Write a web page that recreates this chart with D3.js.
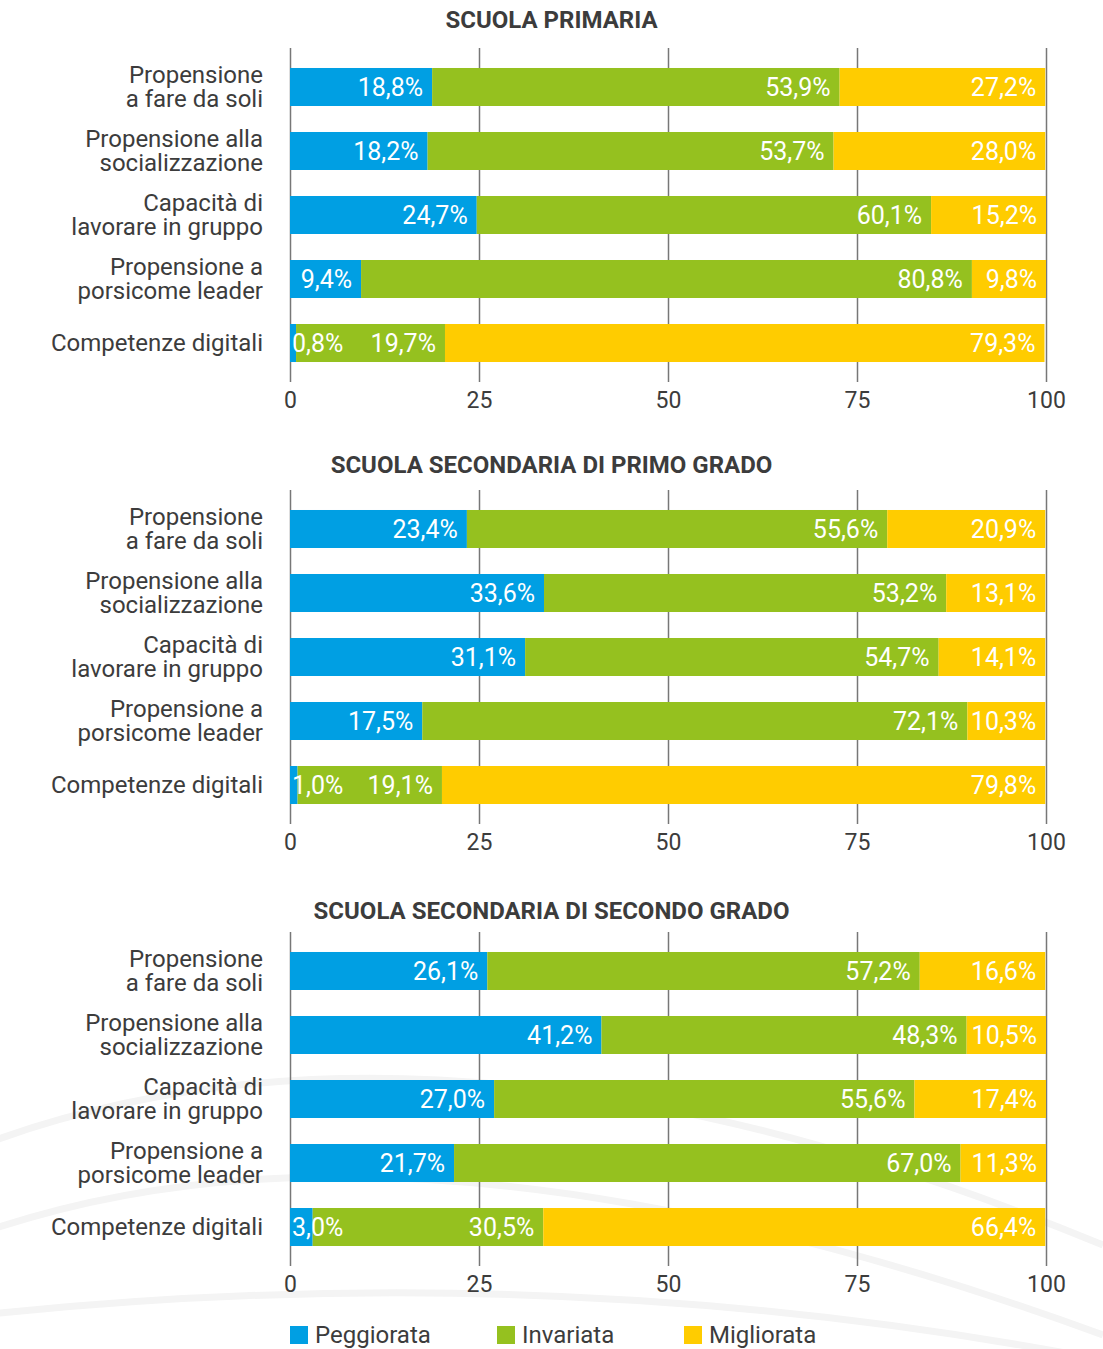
<!DOCTYPE html>
<html>
<head>
<meta charset="utf-8">
<script src="https://cdn.jsdelivr.net/npm/d3@7"></script>
<style>
  body { margin: 0; background: #fff; }
  svg text { font-family: "Roboto", sans-serif; }
</style>
</head>
<body>
<div id="chart"></div>
<script>
const schools = [
  "SCUOLA PRIMARIA",
  "SCUOLA SECONDARIA DI PRIMO GRADO",
  "SCUOLA SECONDARIA DI SECONDO GRADO",
];

const categories = [
  ["Propensione", "a fare da soli"],
  ["Propensione alla", "socializzazione"],
  ["Capacità di", "lavorare in gruppo"],
  ["Propensione a", "porsicome leader"],
  ["Competenze digitali"],
];

const seriesNames = ["Peggiorata", "Invariata", "Migliorata"];

// one row per school, one value per category
const peggiorata = [
  [18.8, 18.2, 24.7, 9.4, 0.8],
  [23.4, 33.6, 31.1, 17.5, 1.0],
  [26.1, 41.2, 27.0, 21.7, 3.0],
];
const invariata = [
  [53.9, 53.7, 60.1, 80.8, 19.7],
  [55.6, 53.2, 54.7, 72.1, 19.1],
  [57.2, 48.3, 55.6, 67.0, 30.5],
];
const migliorata = [
  [27.2, 28.0, 15.2, 9.8, 79.3],
  [20.9, 13.1, 14.1, 10.3, 79.8],
  [16.6, 10.5, 17.4, 11.3, 66.4],
];

const xTicks = [0, 25, 50, 75, 100];

const colors = ["#009fe3", "#95c11f", "#ffcc00"];
const textColor = "#3c3c3c";

const width = 1103;
const height = 1349;
const panelStep = 442;
const titleY = [20, 465, 911];

const svg = d3
  .select("#chart")
  .append("svg")
  .attr("width", width)
  .attr("height", height);

// faint background arcs
const arcs = [
  "M-10 1142 Q 450 975 1103 1245",
  "M-10 1230 Q 420 1085 1103 1335",
  "M-10 1314 Q 560 1255 1103 1360",
];
svg
  .append("g")
  .selectAll("path")
  .data(arcs)
  .enter()
  .append("path")
  .attr("d", (d) => d)
  .attr("fill", "none")
  .attr("stroke", "#f4f4f4")
  .attr("stroke-width", 7);

const x = d3.scaleLinear().domain([0, 100]).range([290, 1046]);

const fmt = (v) => d3.format(".1f")(v).replace(".", ",") + "%";

schools.forEach((school, s) => {
  const g = svg
    .append("g")
    .attr("transform", `translate(0,${s * panelStep})`);

  g.append("text")
    .attr("x", width / 2)
    .attr("y", titleY[s] - s * panelStep)
    .attr("dy", "0.35em")
    .attr("text-anchor", "middle")
    .style("font-size", "24px")
    .style("font-weight", "bold")
    .style("fill", textColor)
    .text(school);

  const y = d3
    .scaleBand()
    .domain(d3.range(categories.length))
    .range([55, 375])
    .paddingInner(0.40625)
    .paddingOuter(0.203);

  // grid / axis
  const axis = g
    .append("g")
    .attr("transform", "translate(0,382)")
    .call(
      d3
        .axisBottom(x)
        .tickValues(xTicks)
        .tickSizeInner(-334)
        .tickSizeOuter(0)
        .tickPadding(10)
    );
  axis.select(".domain").remove();
  axis
    .selectAll(".tick line")
    .attr("stroke", "#777")
    .attr("stroke-width", 1.5);
  axis
    .selectAll(".tick text")
    .style("font-size", "23px")
    .style("fill", textColor);

  const rows = categories.map((c, i) => ({
    i: i,
    Peggiorata: peggiorata[s][i],
    Invariata: invariata[s][i],
    Migliorata: migliorata[s][i],
  }));

  const stacked = d3.stack().keys(seriesNames)(rows);

  const barG = g.append("g");
  const labelG = g.append("g");

  stacked.forEach((layer, k) => {
    barG
      .append("g")
      .selectAll("rect")
      .data(layer)
      .enter()
      .append("rect")
      .attr("x", (d) => x(d[0]))
      .attr("y", (d) => y(d.data.i))
      .attr("width", (d) => x(d[1]) - x(d[0]))
      .attr("height", y.bandwidth())
      .attr("fill", colors[k]);

    labelG
      .append("g")
      .selectAll("text")
      .data(layer)
      .enter()
      .append("text")
      .attr("y", (d) => y(d.data.i) + y.bandwidth() / 2)
      .attr("dy", "0.35em")
      .style("font-size", "25px")
      .style("fill", "#fff")
      .text((d) => fmt(d.data[layer.key]))
      .each(function (d) {
        const w = this.getComputedTextLength();
        const segW = x(d[1]) - x(d[0]);
        if (segW < w + 12) {
          d3.select(this)
            .attr("x", x(d[0]) + 2)
            .attr("text-anchor", "start");
        } else {
          d3.select(this)
            .attr("x", x(d[1]) - 9)
            .attr("text-anchor", "end");
        }
      });
  });

  // category labels
  const labels = g
    .append("g")
    .selectAll("text")
    .data(categories)
    .enter()
    .append("text")
    .attr("text-anchor", "end")
    .style("font-size", "24px")
    .style("fill", textColor);

  labels
    .selectAll("tspan")
    .data((d, i) => d.map((line, j) => ({ line, j, n: d.length, i })))
    .enter()
    .append("tspan")
    .attr("x", 263)
    .attr(
      "y",
      (d) => y(d.i) + y.bandwidth() / 2 + (d.j - (d.n - 1) / 2) * 24
    )
    .attr("dy", "0.35em")
    .text((d) => d.line);
});

// legend
const legendX = [290, 497, 684];
const legend = svg
  .append("g")
  .selectAll("g")
  .data(seriesNames)
  .enter()
  .append("g")
  .attr("transform", (d, i) => `translate(${legendX[i]},1326)`);

legend
  .append("rect")
  .attr("width", 18)
  .attr("height", 18)
  .attr("fill", (d, i) => colors[i]);

legend
  .append("text")
  .attr("x", 25)
  .attr("y", 9)
  .attr("dy", "0.35em")
  .style("font-size", "24px")
  .style("fill", textColor)
  .text((d) => d);
</script>
</body>
</html>
